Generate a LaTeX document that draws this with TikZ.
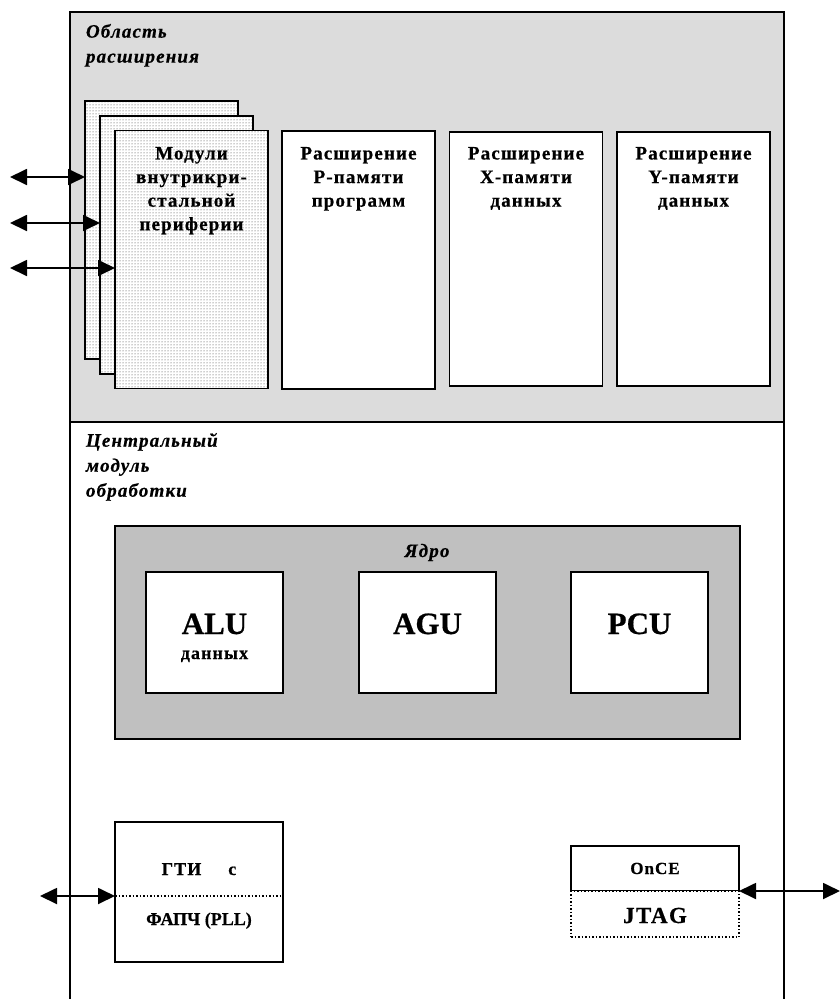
\documentclass[tikz,border=0pt]{standalone}
\usepackage{fontspec}
\setmainfont{Liberation Serif}[BoldFeatures={FakeBold=0.6}]
\newfontfamily\spfont{Liberation Serif}[LetterSpace=6, BoldFeatures={FakeBold=0.6}, BoldItalicFeatures={FakeBold=0.6}]
\usetikzlibrary{arrows.meta,patterns}
\definecolor{lightg}{HTML}{DCDCDC}
\definecolor{coreg}{HTML}{C0C0C0}
\tikzset{
  every node/.append style={outer sep=0pt},
  thick line/.style={line width=1.8pt},
  whitebox/.style={draw, line width=1.8pt, fill=white, inner sep=0pt},
  card/.style={draw, line width=1.8pt, inner sep=0pt, minimum width=153, minimum height=258,
    preaction={fill=white}, pattern=dots, pattern color=black!80},
  memtext/.style={inner sep=0pt, align=center, anchor=north,
    font=\spfont\bfseries\fontsize{19}{23.6}\selectfont},
  areatitle/.style={inner sep=0pt, align=left, anchor=north west,
    font=\spfont\bfseries\itshape\fontsize{19}{25}\selectfont},
  bigtext/.style={inner sep=0pt, anchor=base, font=\bfseries\fontsize{31}{34}\selectfont},
  biarrow/.style={line width=1.8pt, {Triangle[length=17pt,width=16pt]}-{Triangle[length=17pt,width=16pt]}}
}
\begin{document}
\begin{tikzpicture}[x=1pt,y=-1pt]
\useasboundingbox (0,0) rectangle (840,999);
% outer frame
\fill[lightg] (70,12) rectangle (784,422);
\draw[thick line] (70,999) -- (70,12) -- (784,12) -- (784,999);
\draw[thick line] (70,422) -- (784,422);
\node[areatitle] (areaT) at (86,24) {Область\\расширения};
\node[areatitle] (cpuT) at (86,433) {Центральный\\модуль\\обработки};
% stacked peripheral cards
\node[card] (c1) at (161.5,230) {};
\node[card] (c2) at (176.5,245) {};
\node[card] (c3) at (191.5,259.5) {};
\node[memtext] (c3t) at (191.5,147) {Модули\\внутрикри-\\стальной\\периферии};
% memory boxes
\node[whitebox, minimum width=153, minimum height=258] (P) at (358.5,260) {};
\node[whitebox, minimum width=153, minimum height=254] (X) at (526,259) {};
\node[whitebox, minimum width=153, minimum height=254] (Y) at (693.5,259) {};
\node[memtext] (Pt) at (358.5,147) {Расширение\\Р-памяти\\программ};
\node[memtext] (Xt) at (526,147) {Расширение\\X-памяти\\данных};
\node[memtext] (Yt) at (693.5,147) {Расширение\\Y-памяти\\данных};
% left arrows
\coordinate (a1) at (10,177);
\coordinate (a2) at (10,223);
\coordinate (a3) at (10,268);
\draw[biarrow] (a1) -- (a1 -| c1.west);
\draw[biarrow] (a2) -- (a2 -| c2.west);
\draw[biarrow] (a3) -- (a3 -| c3.west);
% core
\node[draw, line width=1.8pt, fill=coreg, inner sep=0pt, minimum width=625, minimum height=213] (core) at (427.5,632.5) {};
\node[inner sep=0pt, anchor=base, font=\spfont\bfseries\itshape\fontsize{19}{20}\selectfont] (coreT) at (427,557) {Ядро};
\node[whitebox, minimum width=137, minimum height=121] (alu) at (214.5,632.5) {};
\node[whitebox, minimum width=137, minimum height=121] (agu) at (427.5,632.5) {};
\node[whitebox, minimum width=137, minimum height=121] (pcu) at (639.5,632.5) {};
\node[bigtext] (aluT) at (alu.center |- 0,634) {ALU};
\node[inner sep=0pt, anchor=base, font=\spfont\bfseries\fontsize{18}{20}\selectfont] (aluT2) at (alu.center |- 0,659) {данных};
\node[bigtext] (aguT) at (agu.center |- 0,634) {AGU};
\node[bigtext] (pcuT) at (pcu.center |- 0,634) {PCU};
% clock generator
\node[whitebox, minimum width=168, minimum height=140] (gti) at (199,892) {};
\coordinate (gL) at (gti.west |- 0,896);
\coordinate (gR) at (gti.east |- 0,896);
\draw[line width=1.5pt, dotted] (gL) -- (gR);
\node[inner sep=0pt, anchor=base, font=\spfont\bfseries\fontsize{18}{20}\selectfont] (gtiT) at (199,875) {ГТИ\hspace{1.5em}с};
\node[inner sep=0pt, anchor=base, font=\bfseries\fontsize{18}{20}\selectfont] (pllT) at (199,925) {ФАПЧ (PLL)};
\coordinate (gA) at (40,896);
\draw[biarrow] (gA) -- (gL);
% OnCE / JTAG
\node[draw, line width=1.8pt, fill=white, inner sep=0pt, minimum width=168, minimum height=45] (once) at (655,868.5) {};
\node[draw, line width=1.5pt, dotted, fill=white, inner sep=0pt, minimum width=168, minimum height=46] (jtag) at (655,914) {};
\draw[line width=1.8pt] (once.south west) -- (once.north west) -- (once.north east) -- (once.south east);
\node[inner sep=0pt, anchor=base, font=\spfont\bfseries\fontsize{17}{20}\selectfont] (onceT) at (655,874) {OnCE};
\node[inner sep=0pt, anchor=base, font=\spfont\bfseries\fontsize{23}{24}\selectfont] (jtagT) at (655,923) {JTAG};
\coordinate (oR) at (840,891);
\draw[biarrow] (once.south east) -- (oR);
\end{tikzpicture}
\end{document}
